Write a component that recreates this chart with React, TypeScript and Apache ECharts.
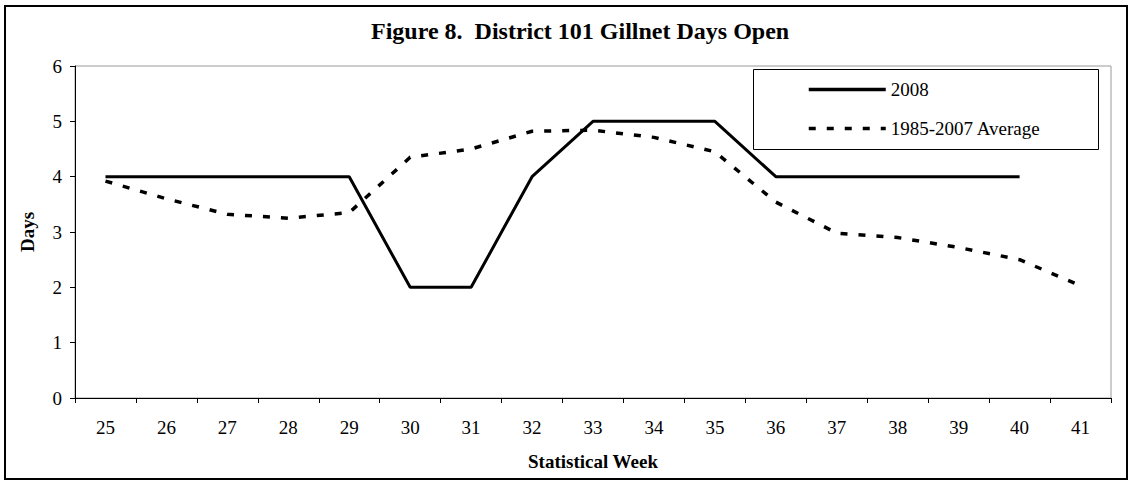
import React, { useEffect, useRef } from "react";
import * as echarts from "echarts";

const weeks = ["25", "26", "27", "28", "29", "30", "31", "32", "33", "34", "35", "36", "37", "38", "39", "40", "41"];
const days2008 = [4, 4, 4, 4, 4, 2, 2, 4, 5, 5, 5, 4, 4, 4, 4, 4, null];
const daysAvg = [3.92, 3.6, 3.32, 3.25, 3.35, 4.35, 4.5, 4.82, 4.84, 4.71, 4.45, 3.54, 2.98, 2.9, 2.72, 2.5, 2.03];
const seriesNames = ["2008", "1985-2007 Average"];
const titleText = "Figure 8.  District 101 Gillnet Days Open";

const FONT = "'Liberation Serif', 'Times New Roman', serif";

export default function App() {
  const ref = useRef<HTMLDivElement>(null);
  useEffect(() => {
    document.body.style.margin = "0";
    const chart = echarts.init(ref.current!, null, { renderer: "svg" });
    chart.setOption({
      animation: false,
      backgroundColor: "#fff",
      textStyle: { fontFamily: FONT, color: "#000" },
      title: {
        text: titleText,
        left: 366,
        top: 14,
        textStyle: { fontFamily: FONT, fontWeight: "bold", fontSize: 24, color: "#000" },
      },
      legend: {
        left: 807,
        top: 80,
        orient: "vertical",
        itemWidth: 77,
        itemHeight: 19,
        itemGap: 20,
        padding: 0,
        itemStyle: { opacity: 0 },
        lineStyle: { width: 3.5 },
        textStyle: { fontFamily: FONT, fontSize: 19, color: "#000" },
        data: seriesNames,
      },
      graphic: [
        {
          type: "rect",
          shape: { x: 5, y: 6, width: 1122, height: 473 },
          style: { fill: "none", stroke: "#000", lineWidth: 2 },
          silent: true,
        },
        {
          type: "rect",
          shape: { x: 753.5, y: 69.5, width: 345, height: 80 },
          style: { fill: "none", stroke: "#000", lineWidth: 1 },
          silent: true,
        },
      ],
      grid: {
        left: 75,
        right: 23,
        top: 66,
        bottom: 85,
        show: true,
        borderColor: "#999",
        borderWidth: 1,
        backgroundColor: "transparent",
      },
      xAxis: {
        type: "category",
        data: weeks,
        boundaryGap: true,
        name: "Statistical Week",
        nameLocation: "middle",
        nameGap: 54,
        nameTextStyle: { fontFamily: FONT, fontWeight: "bold", fontSize: 19, color: "#000" },
        axisLine: { lineStyle: { color: "#000", width: 1 } },
        axisTick: { show: true, inside: false, length: 5, alignWithLabel: false, lineStyle: { color: "#000" } },
        axisLabel: { fontFamily: FONT, fontSize: 19, color: "#000", margin: 20, interval: 0 },
        splitLine: { show: false },
      },
      yAxis: {
        type: "value",
        min: 0,
        max: 6,
        interval: 1,
        name: "Days",
        nameLocation: "middle",
        nameGap: 38,
        nameRotate: 90,
        nameTextStyle: { fontFamily: FONT, fontWeight: "bold", fontSize: 19, color: "#000" },
        axisLine: { show: true, lineStyle: { color: "#000", width: 1 } },
        axisTick: { show: true, inside: false, length: 5, lineStyle: { color: "#000" } },
        axisLabel: { fontFamily: FONT, fontSize: 19, color: "#000", margin: 13 },
        splitLine: { show: false },
      },
      series: [
        {
          name: seriesNames[0],
          type: "line",
          data: days2008,
          symbol: "none",
          lineStyle: { color: "#000", width: 3, type: "solid" },
          itemStyle: { color: "#000" },
        },
        {
          name: seriesNames[1],
          type: "line",
          data: daysAvg,
          symbol: "none",
          lineStyle: { color: "#000", width: 3.5, type: [7, 11] },
          itemStyle: { color: "#000" },
        },
      ],
    });
    return () => chart.dispose();
  }, []);
  return <div ref={ref} style={{ width: 1134, height: 483 }} />;
}
